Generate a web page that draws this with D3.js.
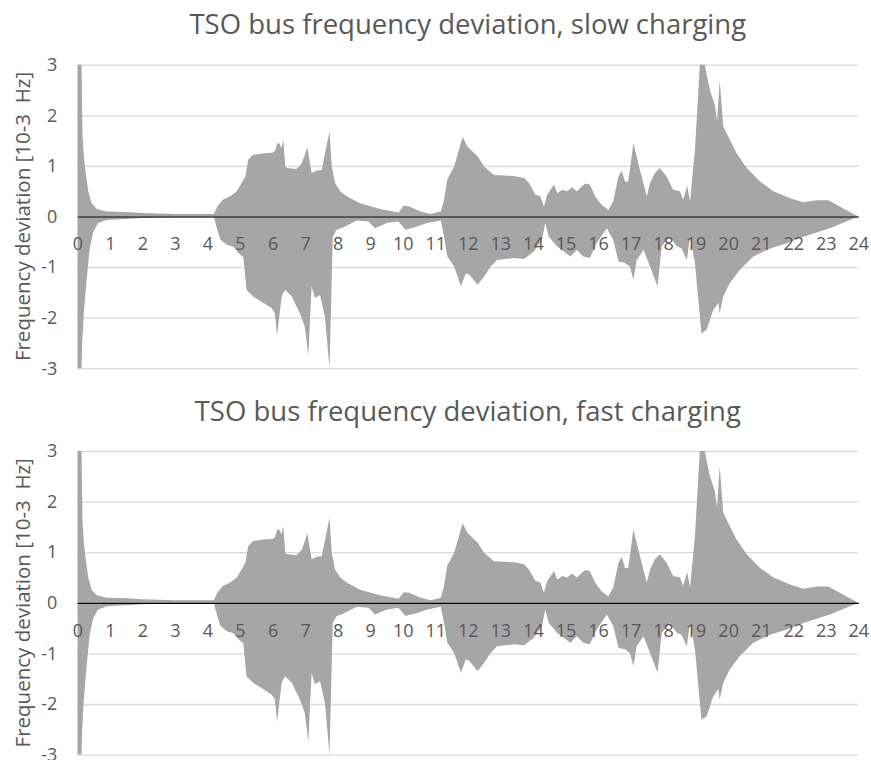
<!DOCTYPE html>
<html>
<head>
<meta charset="utf-8">
<script src="https://cdn.jsdelivr.net/npm/d3@7"></script>
<style>
  body { margin: 0; background: #fff; }
  text { font-family: "Open Sans", sans-serif; }
</style>
</head>
<body>
<script>
// hours and envelope values (10^-3 Hz)
var upperHours = [0, 0.13, 0.16, 0.2, 0.25, 0.34, 0.44, 0.6, 0.9, 1.5, 2, 3, 4.2, 4.3, 4.47, 4.7, 4.9, 5.05, 5.17, 5.25,
  5.4, 5.72, 6.0, 6.08, 6.13, 6.18, 6.23, 6.27, 6.33, 6.39, 6.45, 6.74, 6.9, 7.07, 7.2, 7.36, 7.51, 7.75, 7.82, 7.92,
  8.08, 8.28, 8.69, 9.3, 9.87, 10.03, 10.2, 10.55, 10.86, 11.17, 11.27, 11.37, 11.58, 11.73, 11.84, 11.99, 12.3, 12.5, 12.8, 13.42,
  13.73, 13.88, 14.08, 14.23, 14.34, 14.44, 14.65, 14.75, 14.9, 15.05, 15.2, 15.35, 15.6, 15.75, 15.91, 16.11, 16.32, 16.47, 16.63, 16.73,
  16.83, 16.93, 17.09, 17.29, 17.5, 17.6, 17.75, 17.9, 18.11, 18.31, 18.52, 18.62, 18.74, 18.83, 18.98, 19.13, 19.28, 19.44, 19.59, 19.66,
  19.74, 19.85, 20.05, 20.26, 20.57, 20.98, 21.39, 21.9, 22.31, 22.72, 23.08, 23.54, 24];
var slowUpper = [3.0, 3.0, 1.6, 1.2, 0.9, 0.49, 0.26, 0.15, 0.1, 0.09, 0.07, 0.05, 0.05, 0.2, 0.33, 0.4, 0.5, 0.66, 0.8, 1.12,
  1.22, 1.25, 1.26, 1.3, 1.42, 1.46, 1.42, 1.35, 1.52, 0.99, 0.96, 0.94, 1.05, 1.37, 0.86, 0.91, 0.92, 1.68, 0.99, 0.66,
  0.5, 0.4, 0.26, 0.15, 0.08, 0.21, 0.2, 0.1, 0.05, 0.1, 0.33, 0.73, 0.99, 1.32, 1.57, 1.38, 1.19, 0.99, 0.82, 0.8,
  0.76, 0.66, 0.43, 0.4, 0.2, 0.43, 0.63, 0.46, 0.53, 0.5, 0.58, 0.5, 0.65, 0.63, 0.4, 0.23, 0.13, 0.3, 0.79, 0.91,
  0.69, 0.69, 1.45, 0.92, 0.4, 0.66, 0.86, 0.96, 0.79, 0.53, 0.5, 0.33, 0.61, 0.3, 1.32, 3.0, 3.0, 2.5, 2.21, 1.88,
  2.7, 1.78, 1.52, 1.25, 0.96, 0.69, 0.5, 0.36, 0.28, 0.32, 0.32, 0.16, 0];

var lowerHours = [0, 0.13, 0.15, 0.2, 0.28, 0.38, 0.49, 0.64, 0.9, 1.5, 2, 3, 4.2, 4.3, 4.4, 4.6, 4.8, 4.95, 5.1, 5.2,
  5.4, 5.72, 5.97, 6.07, 6.14, 6.28, 6.38, 6.59, 6.84, 6.99, 7.1, 7.2, 7.3, 7.46, 7.61, 7.75, 7.85, 7.97, 8.18, 8.59,
  8.95, 9.15, 9.51, 9.87, 10.08, 10.44, 10.75, 11.17, 11.27, 11.37, 11.58, 11.79, 11.94, 12.05, 12.3, 12.5, 12.7, 12.9, 13.42, 13.73,
  14.03, 14.28, 14.38, 14.49, 14.74, 15.15, 15.35, 15.55, 15.75, 15.96, 16.27, 16.47, 16.63, 16.83, 16.98, 17.09, 17.19, 17.4, 17.6, 17.83,
  17.96, 18.21, 18.42, 18.57, 18.73, 18.83, 18.98, 19.18, 19.34, 19.54, 19.7, 19.74, 19.85, 20.05, 20.36, 20.77, 21.29, 21.8, 22.31, 23.13, 24];
var slowLower = [-3, -3, -2.5, -1.9, -1.3, -0.63, -0.3, -0.13, -0.07, -0.05, -0.03, -0.015, -0.015, -0.26, -0.46, -0.56, -0.6, -0.72, -0.8, -1.45,
  -1.58, -1.71, -1.81, -1.91, -2.34, -1.58, -1.45, -1.58, -1.91, -2.18, -2.74, -1.38, -1.61, -1.55, -1.98, -3.0, -0.4, -0.26, -0.21, -0.08,
  -0.1, -0.23, -0.13, -0.1, -0.26, -0.2, -0.13, -0.08, -0.4, -0.79, -0.99, -1.38, -1.12, -1.15, -1.35, -1.19, -0.99, -0.86, -0.82, -0.84,
  -0.69, -0.46, -0.13, -0.4, -0.59, -0.79, -0.66, -0.79, -0.82, -0.53, -0.23, -0.46, -0.89, -0.92, -0.99, -1.25, -0.86, -0.66, -0.99, -1.38,
  -0.59, -0.4, -0.59, -0.63, -0.86, -0.4, -0.92, -2.31, -2.24, -1.85, -1.71, -1.91, -1.58, -1.32, -1.05, -0.79, -0.63, -0.53, -0.4, -0.23, 0];

// the fast charging run looks the same as the slow one in the picture
var fastUpper = slowUpper.slice();
var fastLower = slowLower.slice();

var xTicks = d3.range(0, 25);
var yTicks = [-3, -2, -1, 0, 1, 2, 3];

var panels = [
  {title: "TSO bus frequency deviation, slow charging", upper: slowUpper, lower: slowLower, top: 64.7},
  {title: "TSO bus frequency deviation, fast charging", upper: fastUpper, lower: fastLower, top: 451}
];

var width = 871, height = 760,
    left = 77.3, right = 858.3, plotH = 303.6;

var svg = d3.select("body").append("svg")
    .attr("width", width)
    .attr("height", height);

var x = d3.scaleLinear().domain([0, 24]).range([left, right]);

panels.forEach(function(p, i) {
    var y = d3.scaleLinear().domain([-3, 3]).range([p.top + plotH, p.top]);
    var g = svg.append("g");

    g.append("clipPath").attr("id", "clip" + i)
      .append("rect")
        .attr("x", left).attr("y", p.top - 1)
        .attr("width", right - left).attr("height", plotH + 2);

    // gridlines + y labels
    var yAxis = g.append("g")
        .attr("transform", "translate(" + left + ",0)")
        .call(d3.axisLeft(y).tickValues(yTicks).tickFormat(function(d) { return String(d); })
            .tickSizeInner(-(right - left)).tickSizeOuter(0).tickPadding(20));
    yAxis.select(".domain").remove();
    yAxis.selectAll(".tick line").attr("stroke", "#d9d9d9").attr("stroke-width", 1.3);
    yAxis.selectAll(".tick text")
        .attr("fill", "#595959")
        .style("font-size", "18px");

    // areas
    var upData = upperHours.map(function(h, k) { return [h, p.upper[k]]; });
    var loData = lowerHours.map(function(h, k) { return [h, p.lower[k]]; });
    var area = d3.area()
        .x(function(d) { return x(d[0]); })
        .y0(y(0))
        .y1(function(d) { return y(d[1]); });

    var plot = g.append("g").attr("clip-path", "url(#clip" + i + ")");
    plot.append("path").datum(upData).attr("d", area).attr("fill", "#a6a6a6");
    plot.append("path").datum(loData).attr("d", area).attr("fill", "#a6a6a6");

    // x axis along zero
    var xAxis = g.append("g")
        .attr("transform", "translate(0," + y(0) + ")")
        .call(d3.axisBottom(x).tickValues(xTicks).tickSize(0).tickPadding(21));
    xAxis.select(".domain").attr("stroke", "#000").attr("stroke-width", 1.2);
    xAxis.selectAll(".tick text")
        .attr("fill", "#595959")
        .style("font-size", "18px");

    // title
    svg.append("text")
        .attr("x", (left + right) / 2)
        .attr("y", p.top - 30.4)
        .attr("text-anchor", "middle")
        .attr("fill", "#595959")
        .style("font-size", "27.5px")
        .text(p.title);

    // y axis title
    svg.append("text")
        .attr("transform", "translate(30," + (p.top + plotH / 2) + ") rotate(-90)")
        .attr("text-anchor", "middle")
        .attr("fill", "#595959")
        .style("font-size", "20.5px")
        .style("white-space", "pre")
        .text("Frequency deviation [10-3  Hz]");
});
</script>
</body>
</html>
